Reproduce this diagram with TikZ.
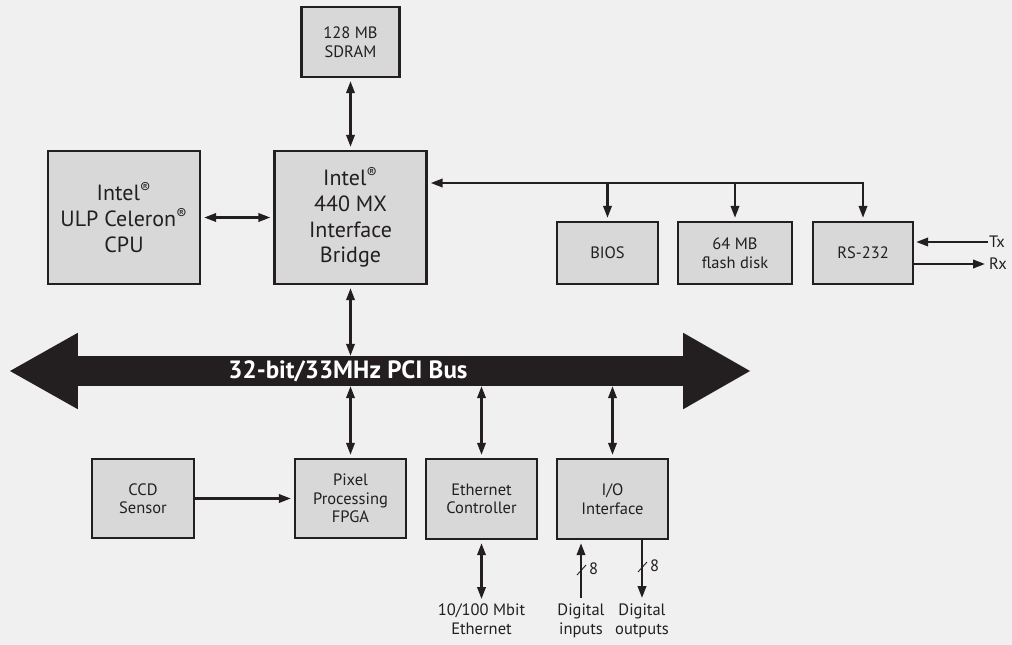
\documentclass[tikz,border=0pt]{standalone}
\usepackage{fontspec}
\setmainfont{PT Sans}
\usetikzlibrary{positioning,arrows.meta,calc}
\definecolor{panel}{HTML}{F0F0F0}
\definecolor{chip}{HTML}{D8D8D9}
\definecolor{ink}{HTML}{231F20}
\newcommand{\reg}{\textsuperscript{\textregistered}}
\tikzset{
  unit/.style    = {rectangle, draw=ink, fill=chip, line width=2.4pt, align=center, text=ink,
                    inner sep=0pt, font=\fontsize{16.5}{18.5}\selectfont},
  bigunit/.style = {unit, font=\fontsize{22}{25.7}\selectfont},
  link/.style    = {-{Triangle[length=12pt,width=8.5pt]}, line width=2.2pt, draw=ink,
                    line cap=rect, shorten >=3pt},
  both/.style    = {link, {Triangle[length=12pt,width=8.5pt]}-{Triangle[length=12pt,width=8.5pt]},
                    shorten <=3pt},
  pin/.style     = {font=\fontsize{16.5}{18.5}\selectfont, text=ink, align=center, inner sep=2pt},
  tick/.style    = {draw=ink, line width=0.9pt},
}

\begin{document}
\begin{tikzpicture}[x=1pt, y=-1pt]
  \fill[panel] (0,0) rectangle (1012,645);
  \useasboundingbox (0,0) rectangle (1012,645);

  % upper row
  \node[unit, minimum width=98pt, minimum height=70pt] (sdram) at (350.5,42) {128 MB\\SDRAM};
  \node[bigunit, minimum width=152pt, minimum height=133pt] (cpu) at (124,217.5)
    {Intel\reg\\ULP Celeron\reg\\CPU};
  \node[bigunit, minimum width=152pt, minimum height=133pt] (bridge) at (350.5,217.5)
    {Intel\reg\\440 MX\\Interface\\Bridge};
  \node[unit, minimum width=101pt, minimum height=62pt] (bios) at (607.5,253) {BIOS};
  \node[unit, minimum width=114pt, minimum height=62pt] (flash) at (735,253) {64 MB\\flash disk};
  \node[unit, minimum width=100pt, minimum height=62pt] (rs) at (863,253) {RS-232};

  \draw[both] (sdram.south) -- (sdram.south |- bridge.north);
  \draw[both] (cpu.east) -- (bridge.west);
  \coordinate (tap) at (863,183);
  \draw[link] (tap) -- (tap -| bridge.east);
  \draw[link] (tap -| bios.north) -- (bios.north);
  \draw[link] (tap -| flash.north) -- (flash.north);
  \draw[link] (tap) -- (rs.north);

  \node[pin, anchor=west] (tx) at (987,242) {Tx};
  \node[pin, anchor=west] (rx) at (987,264) {Rx};
  \draw[link, shorten >=2pt] (tx.west) -- (tx.west -| rs.east);
  \draw[link, shorten >=2pt] (rx.west -| rs.east) -- (rx.west);

  % the bus
  \node[fill=ink, minimum width=605pt, minimum height=30pt, inner sep=0pt] (bus) at (380.5,371) {};
  \fill[ink] (bus.north west) -- ++(0,-23) -- (10,371) -- ($(bus.south west)+(0,23)$) -- cycle;
  \fill[ink] (bus.north east) -- ++(0,-23) -- (750,371) -- ($(bus.south east)+(0,23)$) -- cycle;
  \node[font=\fontsize{25}{28}\selectfont\bfseries, text=white] (buslbl) at (348,371)
    {32-bit/33MHz PCI Bus};

  % lower row
  \node[unit, minimum width=102pt, minimum height=79pt] (ccd) at (143,498.5) {CCD\\Sensor};
  \node[unit, minimum width=111pt, minimum height=79pt] (fpga) at (350.5,498.5) {Pixel\\Processing\\FPGA};
  \node[unit, minimum width=111pt, minimum height=80pt] (eth) at (481.5,499) {Ethernet\\Controller};
  \node[unit, minimum width=111pt, minimum height=80pt] (io) at (612.5,499) {I/O\\Interface};

  \draw[both, shorten <=0pt] (bridge.south |- bus.north) -- (bridge.south);
  \draw[both, shorten <=0pt] (fpga.north |- bus.south) -- (fpga.north);
  \draw[both, shorten <=0pt] (eth.north |- bus.south) -- (eth.north);
  \draw[both, shorten <=0pt] (io.north |- bus.south) -- (io.north);
  \draw[link] (ccd.east) -- (fpga.west);

  \node[pin, anchor=north] (ethlbl) at (481.5,602) {10/100 Mbit\\Ethernet};
  \node[pin, anchor=north] (inlbl) at (581,602) {Digital\\inputs};
  \node[pin, anchor=north] (outlbl) at (642,602) {Digital\\outputs};
  \draw[both] (eth.south) -- (ethlbl.north);
  \draw[link] ([yshift=5pt]inlbl.north) -- (inlbl.north |- io.south);
  \draw[link, shorten >=4pt] (outlbl.north |- io.south) -- (outlbl.north);

  \draw[tick] (577,575) -- (586,565);
  \node[pin, anchor=west] (in8) at (587,569) {8};
  \draw[tick] (638,572) -- (647,562);
  \node[pin, anchor=west] (out8) at (648,566) {8};
\end{tikzpicture}
\end{document}
